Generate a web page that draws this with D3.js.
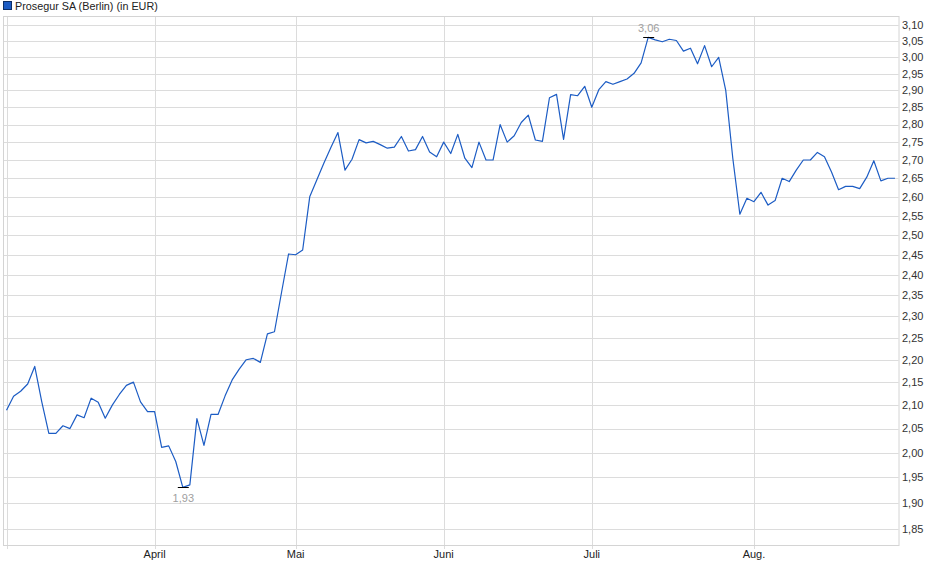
<!DOCTYPE html>
<html>
<head>
<meta charset="utf-8">
<script src="https://cdn.jsdelivr.net/npm/d3@7"></script>
<style>
  html, body { margin: 0; padding: 0; background: #fff; }
  svg { display: block; font-family: "Liberation Sans", Arial, sans-serif; }
</style>
</head>
<body>
<svg id="chart" width="940" height="579"></svg>
<script>
// ---- data (trading-day closes, Berlin, EUR) ----
const title = "Prosegur SA (Berlin) (in EUR)";
const prices = [
  2.089, 2.119, 2.130, 2.146, 2.185, 2.107, 2.040, 2.040, 2.056, 2.050,
  2.079, 2.073, 2.115, 2.106, 2.072, 2.100, 2.123, 2.143, 2.150, 2.107,
  2.086, 2.086, 2.011, 2.014, 1.982, 1.930, 1.935, 2.071, 2.015, 2.080,
  2.080, 2.120, 2.155, 2.179, 2.200, 2.203, 2.194, 2.259, 2.264, 2.357,
  2.452, 2.450, 2.462, 2.600, 2.645, 2.691, 2.735, 2.777, 2.672, 2.702,
  2.757, 2.748, 2.752, 2.743, 2.733, 2.736, 2.766, 2.725, 2.729, 2.766,
  2.722, 2.709, 2.750, 2.718, 2.772, 2.705, 2.679, 2.750, 2.700, 2.700,
  2.800, 2.750, 2.768, 2.806, 2.827, 2.756, 2.752, 2.878, 2.888, 2.758,
  2.887, 2.884, 2.912, 2.850, 2.902, 2.926, 2.918, 2.926, 2.934, 2.951,
  2.983, 3.062, 3.054, 3.048, 3.056, 3.052, 3.019, 3.028, 2.980, 3.036,
  2.971, 3.000, 2.900, 2.705, 2.554, 2.596, 2.587, 2.612, 2.578, 2.590,
  2.650, 2.641, 2.672, 2.700, 2.700, 2.721, 2.709, 2.667, 2.619, 2.628,
  2.628, 2.622, 2.653, 2.698, 2.643, 2.650, 2.650
];
const monthLabels = ["", "April", "Mai", "Juni", "Juli", "Aug."];
const monthStartIndex = [0, 21, 41, 62, 83, 106];
const yTicks = [1.85, 1.90, 1.95, 2.00, 2.05, 2.10, 2.15, 2.20, 2.25, 2.30, 2.35,
  2.40, 2.45, 2.50, 2.55, 2.60, 2.65, 2.70, 2.75, 2.80, 2.85, 2.90, 2.95, 3.00, 3.05, 3.10];

// ---- layout ----
const plot = { left: 3, right: 898.5, top: 16, bottom: 545 };
const svg = d3.select("#chart");

const x = d3.scaleLinear().domain([-0.5, prices.length - 0.5]).range([plot.left, plot.right]);
const y = d3.scaleLog().domain([1.85, 3.10]).range([528.7, 25.3]);
const fmt = v => d3.format(".2f")(v).replace(".", ",");

// horizontal grid
svg.append("g").selectAll("line").data(yTicks).join("line")
  .attr("x1", plot.left).attr("x2", plot.right)
  .attr("y1", d => Math.round(y(d)) + 0.5).attr("y2", d => Math.round(y(d)) + 0.5)
  .attr("stroke", "#dcdcdc").attr("stroke-width", 1);

// vertical grid (month starts)
svg.append("g").selectAll("line").data(monthStartIndex).join("line")
  .attr("x1", d => Math.round(x(d)) + 0.5).attr("x2", d => Math.round(x(d)) + 0.5)
  .attr("y1", plot.top).attr("y2", plot.bottom + 4)
  .attr("stroke", "#dcdcdc").attr("stroke-width", 1);

// frame
svg.append("rect")
  .attr("x", plot.left + 0.5).attr("y", plot.top + 0.5)
  .attr("width", plot.right - plot.left).attr("height", plot.bottom - plot.top)
  .attr("fill", "none").attr("stroke", "#d4d4d4").attr("stroke-width", 1);

// y-axis labels (right)
svg.append("g").selectAll("text").data(yTicks).join("text")
  .attr("x", plot.right + 3.5).attr("y", d => y(d))
  .attr("dy", "0.35em")
  .attr("font-size", 11).attr("fill", "#333")
  .text(d => fmt(d));

// x-axis labels
svg.append("g").selectAll("text").data(monthStartIndex).join("text")
  .attr("x", d => x(d)).attr("y", plot.bottom + 13)
  .attr("text-anchor", "middle")
  .attr("font-size", 11).attr("fill", "#222")
  .text((d, i) => monthLabels[i]);

// price line
const line = d3.line().x((d, i) => x(i)).y(d => y(d));
svg.append("path").datum(prices)
  .attr("d", line)
  .attr("fill", "none").attr("stroke", "#1c5cc4").attr("stroke-width", 1.2)
  .attr("stroke-linejoin", "round");

// high / low markers
const iMax = d3.maxIndex(prices), iMin = d3.minIndex(prices);
const marks = [
  { i: iMax, v: prices[iMax], dy: -9 },
  { i: iMin, v: prices[iMin], dy: 11 }
];
const mg = svg.append("g");
mg.selectAll("line").data(marks).join("line")
  .attr("x1", d => x(d.i) - 5).attr("x2", d => x(d.i) + 6)
  .attr("y1", d => Math.round(y(d.v)) + 0.5).attr("y2", d => Math.round(y(d.v)) + 0.5)
  .attr("stroke", "#000").attr("stroke-width", 1);
mg.selectAll("text").data(marks).join("text")
  .attr("x", d => x(d.i) + 0.5).attr("y", d => y(d.v) + d.dy)
  .attr("dy", "0.35em").attr("text-anchor", "middle")
  .attr("font-size", 11).attr("fill", "#a0a0a0")
  .text(d => fmt(d.v));

// legend / title
svg.append("rect").attr("x", 3.5).attr("y", 1.5).attr("width", 8).attr("height", 8)
  .attr("fill", "#1c5cc4").attr("stroke", "#0d2f66").attr("stroke-width", 1);
svg.append("text").attr("x", 15).attr("y", 6).attr("dy", "0.35em")
  .attr("font-size", 10.8).attr("fill", "#222").text(title);
</script>
</body>
</html>
